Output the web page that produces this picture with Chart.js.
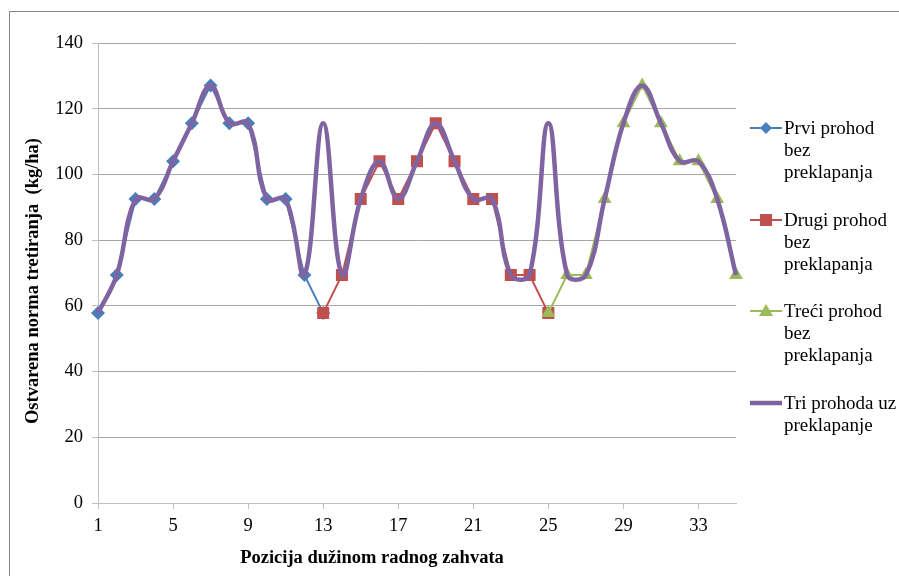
<!DOCTYPE html>
<html>
<head>
<meta charset="utf-8">
<script src="https://cdn.jsdelivr.net/npm/chart.js@4/dist/chart.umd.min.js"></script>
<style>
  html, body { margin: 0; padding: 0; background: #fff; }
  #wrap { position: relative; width: 899px; height: 576px; overflow: hidden; }
  #frame { position: absolute; left: 9px; top: 11px; width: 1000px; height: 1000px; border: 1px solid #868686; box-sizing: border-box; pointer-events: none; }
  #legend { position: absolute; left: 750px; top: 0; font-family: "Liberation Serif", "Times New Roman", serif; font-size: 19px; color: #000; }
  .item { position: absolute; left: 0; width: 150px; }
  .item svg { position: absolute; left: 0; top: 0; }
  .item .txt { position: absolute; left: 34px; top: 0; line-height: 22px; white-space: nowrap; }
  .atitle { position: absolute; font-family: "Liberation Serif", "Times New Roman", serif; font-size: 18.5px; font-weight: bold; color: #000; white-space: nowrap; line-height: 22px; }
  #xtitle { left: 372px; top: 557px; transform: translate(-50%, -50%); }
  #ytitle { left: 32px; top: 281px; transform: translate(-50%, -50%) rotate(-90deg); }
</style>
</head>
<body>
<div id="wrap">
  <canvas id="c" width="899" height="576"></canvas>
  <div id="frame"></div>
  <div id="legend"></div>
  <div id="xtitle" class="atitle"></div>
  <div id="ytitle" class="atitle"></div>
</div>
<script>
const positions = Array.from({length: 35}, (_, i) => String(i + 1));
const prvi   = [57.8, 69.4, 92.5, 92.5, 104, 115.6, 127.1, 115.6, 115.6, 92.5, 92.5, 69.4, 57.8];
const drugi  = [57.8, 69.4, 92.5, 104, 92.5, 104, 115.6, 104, 92.5, 92.5, 69.4, 69.4, 57.8];
const treci  = [57.8, 69.4, 69.4, 92.5, 115.6, 127.1, 115.6, 104, 104, 92.5, 69.4];
const tri    = [57.8, 69.4, 92.5, 92.5, 104, 115.6, 127.1, 115.6, 115.6, 92.5, 92.5, 69.4,
                115.6, 69.4, 92.5, 104, 92.5, 104, 115.6, 104, 92.5, 92.5, 69.4, 69.4,
                115.6, 69.4, 69.4, 92.5, 115.6, 127.1, 115.6, 104, 104, 92.5, 69.4];
const seriesNames = [["Prvi prohod", "bez", "preklapanja"], ["Drugi prohod", "bez", "preklapanja"], ["Treći prohod", "bez", "preklapanja"], ["Tri prohoda uz", "preklapanje"]];
const yTicks = [0, 20, 40, 60, 80, 100, 120, 140];
const xTitle = 'Pozicija dužinom radnog zahvata';
const yTitle = 'Ostvarena norma tretiranja\u00a0 (kg/ha)';

function place(arr, start) {
  const out = new Array(35).fill(null);
  arr.forEach((v, i) => { out[start + i] = v; });
  return out;
}

const blue = '#4A7EBB', red = '#C0504D', green = '#9BBB59', purple = '#8064A2';
const font = "'Liberation Serif', 'Times New Roman', serif";

document.getElementById('xtitle').textContent = xTitle;
document.getElementById('ytitle').textContent = yTitle;

new Chart(document.getElementById('c'), {
  type: 'line',
  data: {
    labels: positions,
    datasets: [
      { label: seriesNames[0].join(' '), data: place(prvi, 0), borderColor: blue, backgroundColor: blue, borderWidth: 2,
        pointStyle: 'rectRot', pointRadius: 7, pointBorderWidth: 0, tension: 0, order: 3 },
      { label: seriesNames[1].join(' '), data: place(drugi, 12), borderColor: red, backgroundColor: red, borderWidth: 2,
        pointStyle: 'rect', pointRadius: 8.5, pointBorderWidth: 0, tension: 0, order: 2 },
      { label: seriesNames[2].join(' '), data: place(treci, 24), borderColor: green, backgroundColor: green, borderWidth: 2,
        pointStyle: 'triangle', pointRadius: 8, pointBorderWidth: 0, tension: 0, order: 1 },
      { label: seriesNames[3].join(' '), data: tri, borderColor: purple, backgroundColor: purple, borderWidth: 4.5,
        pointRadius: 0, tension: 0.4, cubicInterpolationMode: 'default', order: 0 }
    ]
  },
  options: {
    responsive: false,
    animation: false,
    layout: { padding: { top: 43, right: 163, left: 16, bottom: 0 } },
    plugins: { legend: { display: false }, tooltip: { enabled: false } },
    scales: {
      x: {
        offset: false,
        grid: { display: true, drawOnChartArea: false, drawTicks: true, tickLength: 6, color: '#bfbfbf' },
        border: { color: '#bfbfbf', width: 1 },
        ticks: {
          autoSkip: false, maxRotation: 0, padding: 6, color: '#000',
          font: { family: font, size: 18.5 },
          callback: function(v, i) { return (i % 4 === 0) ? this.getLabelForValue(v) : null; }
        },
        title: { display: false },
        afterFit: s => { s.height = 73; }
      },
      y: {
        min: 0, max: 140,
        afterBuildTicks: s => { s.ticks = yTicks.map(v => ({ value: v })); },
        grid: { color: '#a6a6a6', drawTicks: true, tickLength: 6, tickColor: '#bfbfbf' },
        border: { color: '#bfbfbf', width: 1 },
        ticks: { color: '#000', padding: 9, font: { family: font, size: 18.5 } },
        title: { display: false },
        afterFit: s => { s.width = 82; }
      }
    }
  }
});

// HTML legend
const legendTops = [117, 209, 300, 392];
const colors = [blue, red, green, purple];
const markers = [
  c => `<polygon points="16,5 22,11 16,17 10,11" fill="${c}"/>`,
  c => `<rect x="10" y="5" width="12" height="12" fill="${c}"/>`,
  c => `<polygon points="16,4 23,16 9,16" fill="${c}"/>`,
  c => ``
];
const lg = document.getElementById('legend');
seriesNames.forEach((lines, i) => {
  const d = document.createElement('div');
  d.className = 'item';
  d.style.top = legendTops[i] + 'px';
  const lw = i === 3 ? 4.5 : 2;
  d.innerHTML = `<svg width="34" height="22"><line x1="0" y1="11" x2="32" y2="11" stroke="${colors[i]}" stroke-width="${lw}"/>${markers[i](colors[i])}</svg>` +
    `<div class="txt">${lines.join('<br>')}</div>`;
  lg.appendChild(d);
});
</script>
</body>
</html>
